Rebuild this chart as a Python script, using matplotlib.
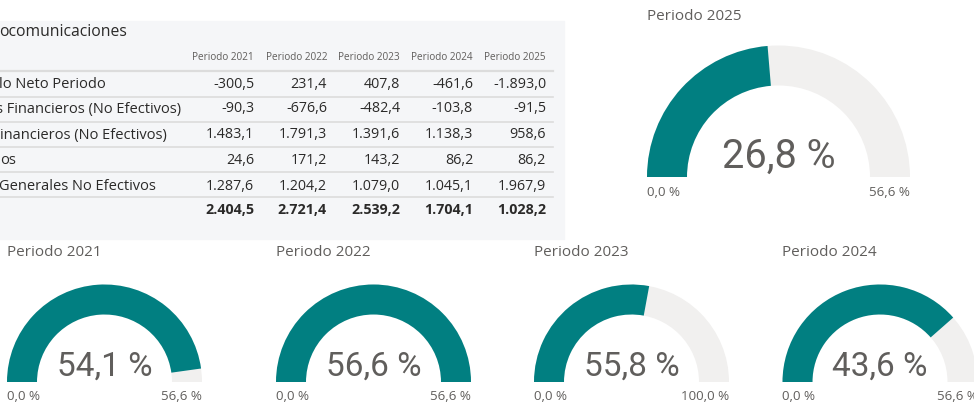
import matplotlib.pyplot as plt
from matplotlib.patches import Wedge, Rectangle

W, H = 974, 404

# table data
table_title = "ocomunicaciones"
periods = ["Periodo 2021", "Periodo 2022", "Periodo 2023", "Periodo 2024", "Periodo 2025"]
row_labels = ["lo Neto Periodo", "s Financieros (No Efectivos)", "inancieros (No Efectivos)",
              "os", "Generales No Efectivos"]
rows = [
    [-300.5, 231.4, 407.8, -461.6, -1893.0],
    [-90.3, -676.6, -482.4, -103.8, -91.5],
    [1483.1, 1791.3, 1391.6, 1138.3, 958.6],
    [24.6, 171.2, 143.2, 86.2, 86.2],
    [1287.6, 1204.2, 1079.0, 1045.1, 1967.9],
]
totals = [2404.5, 2721.4, 2539.2, 1704.1, 1028.2]

# gauge data
gauge_titles = ["Periodo 2021", "Periodo 2022", "Periodo 2023", "Periodo 2024", "Periodo 2025"]
gauge_values = [54.1, 56.6, 55.8, 43.6, 26.8]
gauge_min = [0.0, 0.0, 0.0, 0.0, 0.0]
gauge_max = [56.6, 56.6, 100.0, 56.6, 56.6]

TEAL = "#017f81"
TRACK = "#f1f0ef"
GREY = "#605e5c"
DARK = "#2b2a29"
FONT = "Open Sans"


def es(v, d=1):
    s = f"{v:,.{d}f}"
    return s.replace(",", "X").replace(".", ",").replace("X", ".")


fig = plt.figure(figsize=(W / 100, H / 100), dpi=100)
ax = fig.add_axes([0, 0, 1, 1])
ax.set_xlim(0, W)
ax.set_ylim(H, 0)
ax.axis("off")

# ---- table panel ----
ax.add_patch(Rectangle((0, 21), 564, 218, color="#f5f6f8", zorder=0))
ax.text(-1, 32, table_title, fontsize=11.3, color=DARK, family=FONT, va="center")
col_x = [254, 327, 400, 473, 546]
for x, p in zip(col_x, periods):
    ax.text(x, 57, p, fontsize=7.2, color=GREY, family=FONT, ha="right", va="center")

line_y = [71, 97, 122, 147, 172, 197]
for i, y in enumerate(line_y):
    ax.plot([0, 553], [y, y], color="#dcdcdc", lw=1.6 if i == 0 else 1.2, zorder=1)

row_y = [85, 109, 135, 161, 186]
label_x = [-1, -4, 0, 0, -1]
for y, lx, lab, vals in zip(row_y, label_x, row_labels, rows):
    ax.text(lx, y, lab, fontsize=10.5, color=DARK, family=FONT, va="center")
    for x, v in zip(col_x, vals):
        ax.text(x, y, es(v), fontsize=10.3, color=DARK, family=FONT, ha="right", va="center")
for x, v in zip(col_x, totals):
    ax.text(x, 210, es(v), fontsize=10.3, color=DARK, family=FONT, ha="right", va="center",
            fontweight="bold")

# ---- gauges ----
# (cx, cy, outer radius, thickness, title y, min/max label y, value fontsize)
layout = [
    (104.5, 382, 97.5, 30, 252, 396, 24),
    (373.5, 382, 97.5, 30, 252, 396, 24),
    (631.5, 382, 97.5, 30, 252, 396, 24),
    (880.0, 382, 97.5, 30, 252, 396, 24),
    (778.5, 177, 131.5, 40, 16, 192, 28.5),
]


def gauge(title, val, vmin, vmax, cx, cy, R, t, ty, ly, fs):
    frac = (val - vmin) / (vmax - vmin)
    # y axis is flipped, so angles run clockwise on screen
    ax.add_patch(Wedge((cx, cy), R, 180, 360, width=t, color=TRACK, lw=0))
    ax.add_patch(Wedge((cx, cy), R, 180, 180 + 180 * frac, width=t, color=TEAL, lw=0))
    ax.text(cx - R, ty, title, fontsize=11, color=GREY, family=FONT, va="center")
    ax.text(cx - R, ly, f"{es(vmin)} %", fontsize=9.6, color=GREY, family=FONT, va="center")
    ax.text(cx + R, ly, f"{es(vmax)} %", fontsize=9.6, color=GREY, family=FONT,
            ha="right", va="center")
    ax.text(cx, cy - R * 0.16, f"{es(val)} %", fontsize=fs, color=GREY, family="Roboto",
            ha="center", va="center")


for title, v, mn, mx, lay in zip(gauge_titles, gauge_values, gauge_min, gauge_max, layout):
    gauge(title, v, mn, mx, *lay)

fig.savefig("out.png", dpi=100)
